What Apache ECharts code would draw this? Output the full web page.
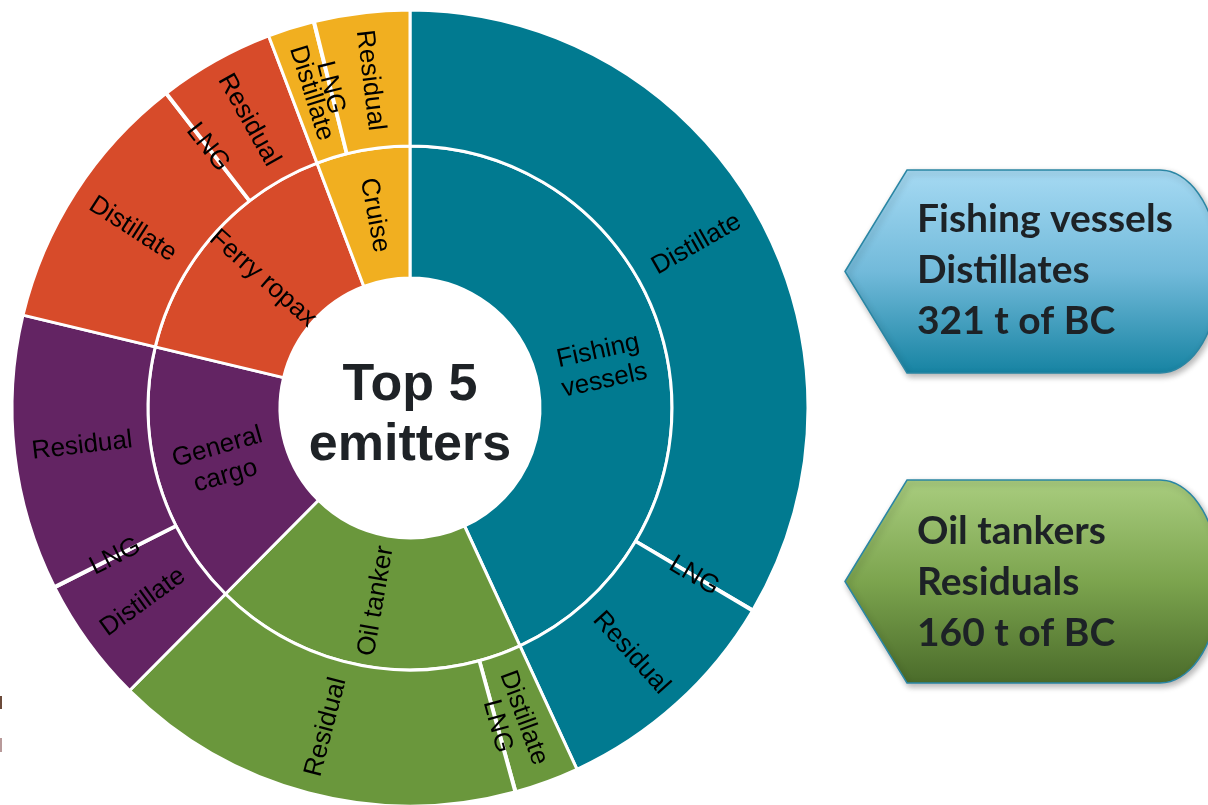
<!DOCTYPE html>
<html>
<head>
<meta charset="utf-8">
<script src="https://cdn.jsdelivr.net/npm/echarts@6/dist/echarts.min.js"></script>
<style>
html,body{margin:0;padding:0;background:#fff;}
#chart{width:1208px;height:805px;}
</style>
</head>
<body>
<div id="chart"></div>
<script>
// ---- data ----
const categories = ['Fishing\nvessels', 'Oil tanker', 'General\ncargo', 'Ferry ropax', 'Cruise'];
const fuels = ['Distillate', 'LNG', 'Residual'];
const fishingVessels = [321, 0.4, 92];
const oilTanker = [25, 0.4, 160];
const generalCargo = [49, 0.4, 107];
const ferryRopax = [103, 0.4, 45];
const cruise = [18, 0.4, 37];
const centerTitle = 'Top 5\nemitters';
const callout1 = ['Fishing vessels', 'Distillates', '321 t of BC'];
const callout2 = ['Oil tankers', 'Residuals', '160 t of BC'];

const seriesValues = [fishingVessels, oilTanker, generalCargo, ferryRopax, cruise];
const colors = ['#017A90', '#6A973C', '#632463', '#D74B2A', '#F1AF20'];

const data = categories.map((c, i) => ({
  name: c,
  itemStyle: { color: colors[i] },
  children: fuels.map((f, j) => ({
    name: f,
    value: seriesValues[i][j],
    itemStyle: { color: colors[i] }
  }))
}));

function calloutPoints(top, bottom) {
  const mid = (top + bottom) / 2, ry = (bottom - top) / 2, xr = 1160, rx = 60;
  const pts = [[845, mid], [907, top], [xr, top]];
  for (let a = -85; a <= 85; a += 5) {
    const r = a * Math.PI / 180;
    pts.push([xr + rx * Math.cos(r), mid + ry * Math.sin(r)]);
  }
  pts.push([xr, bottom], [907, bottom]);
  return pts;
}

function calloutTexts(lines, baseTop) {
  return lines.map((t, i) => ({
    type: 'text',
    x: 917,
    y: baseTop + i * 51,
    style: {
      text: t,
      font: 'bold 39px Lato',
      fill: '#1d2226',
      align: 'left',
      verticalAlign: 'middle'
    },
    z: 10
  }));
}

const chart = echarts.init(document.getElementById('chart'));
chart.setOption({
  animation: false,
  series: [{
    type: 'sunburst',
    center: [410, 408],
    sort: null,
    startAngle: 90,
    data: data,
    nodeClick: false,
    emphasis: { disabled: true },
    itemStyle: { borderColor: '#fff', borderWidth: 3 },
    label: {
      rotate: 'radial',
      fontFamily: 'Liberation Sans',
      fontSize: 26,
      color: '#000',
      lineHeight: 30
    },
    levels: [
      {},
      { r0: 130, r: 262, label: { rotate: 'radial' } },
      { r0: 262, r: 398, label: { rotate: 'radial' } }
    ]
  }],
  graphic: [
    {
      type: 'text', x: 410, y: 416,
      style: {
        text: centerTitle, font: 'bold 52px "Liberation Sans"', fill: '#1e2226',
        align: 'center', verticalAlign: 'middle', lineHeight: 60
      }, z: 10
    },
    {
      type: 'polygon',
      shape: { points: calloutPoints(170, 373) },
      style: {
        fill: { type: 'linear', x: 0, y: 0, x2: 0, y2: 1, colorStops: [
          { offset: 0, color: '#A6DAF3' }, { offset: 0.5, color: '#72BADA' }, { offset: 1, color: '#1683A2' }] },
        stroke: '#2A86A4', lineWidth: 1.5,
        shadowBlur: 6, shadowOffsetX: 2, shadowOffsetY: 3, shadowColor: 'rgba(0,0,0,0.3)'
      }, z: 5
    },
    {
      type: 'polygon',
      shape: { points: calloutPoints(480, 683) },
      style: {
        fill: { type: 'linear', x: 0, y: 0, x2: 0, y2: 1, colorStops: [
          { offset: 0, color: '#A9CD7F' }, { offset: 0.5, color: '#7CA44E' }, { offset: 1, color: '#4A6B2A' }] },
        stroke: '#2A86A4', lineWidth: 1.5,
        shadowBlur: 6, shadowOffsetX: 2, shadowOffsetY: 3, shadowColor: 'rgba(0,0,0,0.3)'
      }, z: 5
    },
    ...calloutTexts(callout1, 219),
    ...calloutTexts(callout2, 531),
    { type: 'rect', shape: { x: 0, y: 696, width: 2, height: 13 }, style: { fill: '#6B4A3A' } },
    { type: 'rect', shape: { x: 0, y: 738, width: 2, height: 14 }, style: { fill: '#B89A9A' } }
  ]
});
</script>
</body>
</html>
